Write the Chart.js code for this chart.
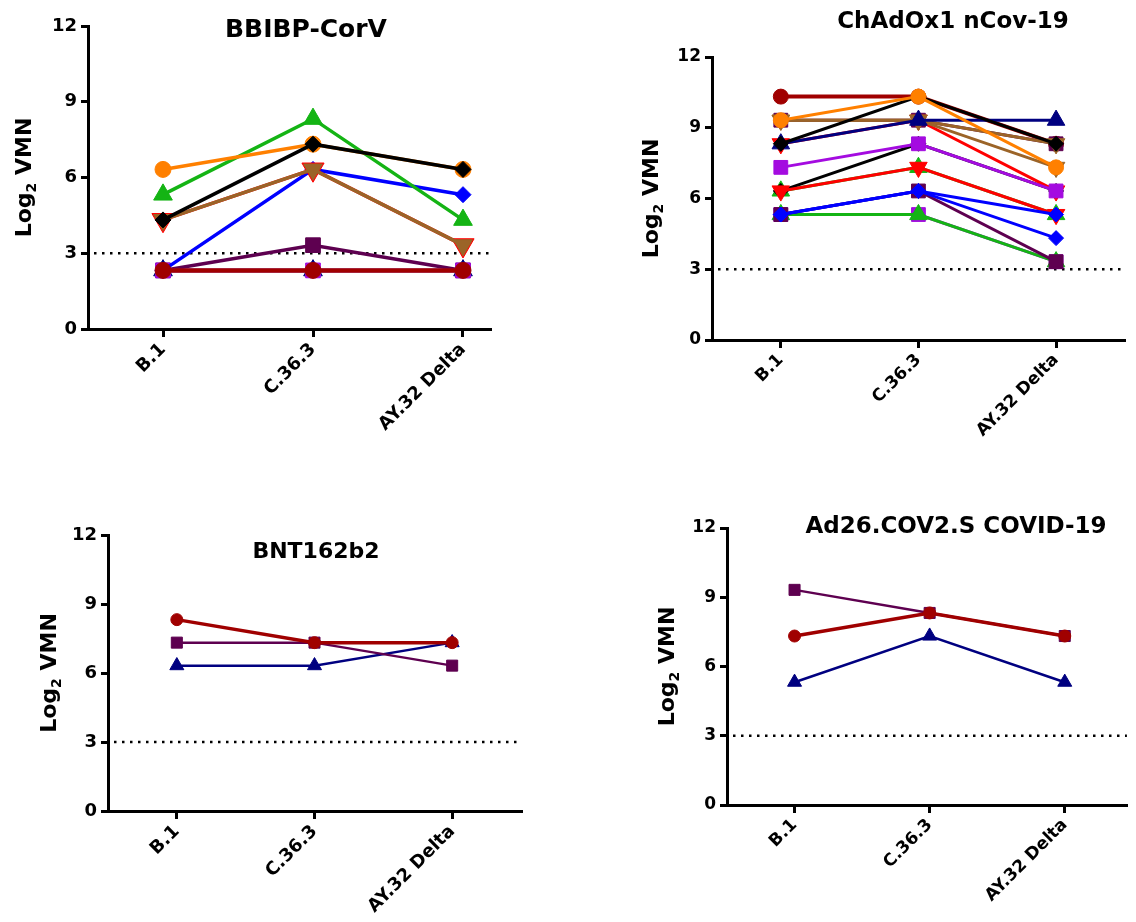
<!DOCTYPE html>
<html>
<head>
<meta charset="utf-8">
<script src="https://cdn.jsdelivr.net/npm/chart.js@4.4.1/dist/chart.umd.min.js"></script>
<style>
  body { margin: 0; background: #fff; }
  #wrap { position: relative; width: 1136px; height: 922px; overflow: hidden; }
  canvas { position: absolute; }
</style>
</head>
<body>
<div id="wrap">
  <canvas id="bbibp" width="568" height="461" style="left:0;top:0"></canvas>
  <canvas id="chadox" width="568" height="461" style="left:568px;top:0"></canvas>
  <canvas id="bnt" width="568" height="461" style="left:0;top:461px"></canvas>
  <canvas id="ad26" width="568" height="461" style="left:568px;top:461px"></canvas>
</div>
<script>
const variants = ['B.1', 'C.36.3', 'AY.32 Delta'];
const cutoff = 3;
const yMin = 0;
const yMax = 12;
const yStep = 3;

// values per subject: B.1, C.36.3, AY.32 Delta (first one drawn on top)
const bbibpValues = [
    [4.32, 7.32, 6.32],
    [6.32, 7.32, 6.32],
    [5.32, 8.32, 4.32],
    [4.32, 6.32, 3.32],
    [4.32, 6.32, 3.32],
    [2.32, 2.32, 2.32],
    [2.32, 6.32, 5.32],
    [2.32, 2.32, 2.32],
    [2.32, 3.32, 2.32],
    [2.32, 2.32, 2.32]
];

const chadoxValues = [
    [9.32, 10.32, 7.32],
    [8.32, 10.32, 8.32],
    [8.32, 9.32, 9.32],
    [9.32, 9.32, 8.32],
    [9.32, 9.32, 7.32],
    [7.32, 8.32, 6.32],
    [8.32, 9.32, 6.32],
    [9.32, 9.32, 8.32],
    [10.32, 10.32, 8.32],
    [5.32, 6.32, 5.32],
    [5.32, 6.32, 4.32],
    [6.32, 7.32, 5.32],
    [6.32, 8.32, 6.32],
    [6.32, 7.32, 5.32],
    [5.32, 6.32, 3.32],
    [5.32, 5.32, 3.32],
    [5.32, 5.32, 3.32]
];

const bntValues = [
    [8.32, 7.32, 7.32],
    [7.32, 7.32, 6.32],
    [6.32, 6.32, 7.32]
];

const ad26Values = [
    [7.32, 8.32, 7.32],
    [9.32, 8.32, 7.32],
    [5.32, 7.32, 5.32]
];

const colors = {
    black: '#000000',
    orange: '#ff8000',
    green: '#14b414',
    brown: '#9b6428',
    red: '#ff0000',
    blue: '#0000ff',
    darkPurple: '#5e0050',
    darkRed: '#a00000',
    violet: '#a40be0',
    navy: '#000080'
};

// marker shapes, k scales the radius so shapes look the same size
const circle = { style: 'circle', rot: 0, k: 1 };
const square = { style: 'rect', rot: 0, k: 1.3 };
const diamond = { style: 'rectRot', rot: 0, k: 1 };
const up = { style: 'triangle', rot: 0, k: 1.35 };
const down = { style: 'triangle', rot: 180, k: 1.35 };
const downWide = { style: 'triangle', rot: 180, k: 1.6 };

const bbibpStyles = [
    [colors.black, diamond],
    [colors.orange, circle],
    [colors.green, up],
    [colors.brown, down],
    [colors.red, downWide],
    [colors.darkRed, circle],
    [colors.blue, diamond],
    [colors.violet, square],
    [colors.darkPurple, square],
    [colors.navy, up]
];

const chadoxStyles = [
    [colors.orange, circle],
    [colors.black, diamond],
    [colors.navy, up],
    [colors.brown, down],
    [colors.brown, down],
    [colors.violet, square],
    [colors.red, down],
    [colors.darkPurple, square],
    [colors.darkRed, circle],
    [colors.blue, diamond],
    [colors.blue, diamond],
    [colors.red, down],
    [colors.black, diamond],
    [colors.green, up],
    [colors.darkPurple, square],
    [colors.green, up],
    [colors.violet, square]
];

const smallStyles = [
    [colors.darkRed, circle],
    [colors.darkPurple, square],
    [colors.navy, up]
];

// title, y label and the dotted cut-off line
const panelText = {
    id: 'panelText',
    beforeDatasetsDraw(chart, args, opts) {
        const ctx = chart.ctx;
        const area = chart.chartArea;
        const y = chart.scales.y.getPixelForValue(cutoff);
        ctx.save();
        ctx.strokeStyle = '#000';
        ctx.lineWidth = 2.5;
        ctx.setLineDash([2.5, 5.5]);
        ctx.beginPath();
        ctx.moveTo(area.left + 6, y);
        ctx.lineTo(area.right, y);
        ctx.stroke();
        ctx.restore();
    },
    afterDraw(chart, args, opts) {
        const ctx = chart.ctx;
        ctx.save();
        ctx.fillStyle = '#000';
        ctx.font = 'bold ' + opts.titleSize + 'px "DejaVu Sans"';
        ctx.textAlign = 'center';
        ctx.textBaseline = 'alphabetic';
        ctx.fillText(opts.title, opts.titleX, opts.titleY);

        // Log2 VMN, rotated, with a subscript 2
        const s = opts.labelSize;
        const big = 'bold ' + s + 'px "DejaVu Sans"';
        const small = 'bold ' + Math.round(s * 0.65) + 'px "DejaVu Sans"';
        ctx.font = big;
        const w1 = ctx.measureText('Log').width;
        const w3 = ctx.measureText(' VMN').width;
        ctx.font = small;
        const w2 = ctx.measureText('2').width;
        const total = w1 + w2 + w3;
        const midY = (chart.chartArea.top + chart.chartArea.bottom) / 2;
        ctx.translate(opts.labelX + s * 0.36, midY);
        ctx.rotate(-Math.PI / 2);
        ctx.textAlign = 'left';
        ctx.font = big;
        ctx.fillText('Log', -total / 2, 0);
        ctx.font = small;
        ctx.fillText('2', -total / 2 + w1, s * 0.25);
        ctx.font = big;
        ctx.fillText(' VMN', -total / 2 + w1 + w2, 0);
        ctx.restore();
    }
};

function makePanel(id, values, styles, p) {
    const canvas = document.getElementById(id);
    const tickFont = { family: 'DejaVu Sans', weight: 'bold', size: p.tickSize };
    return new Chart(canvas, {
        type: 'line',
        data: {
            datasets: values.map((vals, i) => ({
                data: vals.map((v, j) => ({ x: j, y: v })),
                borderColor: styles[i][0],
                backgroundColor: styles[i][0],
                pointBackgroundColor: styles[i][0],
                pointBorderColor: styles[i][0],
                pointStyle: styles[i][1].style,
                pointRotation: styles[i][1].rot,
                pointRadius: p.radius * styles[i][1].k,
                pointBorderWidth: 1,
                borderWidth: styles[i][0] === colors.darkRed ? p.lineWidth + 1 : p.lineWidth,
                tension: 0,
                clip: false
            }))
        },
        options: {
            responsive: false,
            animation: false,
            events: [],
            layout: {
                padding: { left: 0, top: p.top, right: p.right, bottom: 0 }
            },
            scales: {
                x: {
                    type: 'linear',
                    min: -0.5,
                    max: p.xMax,
                    afterBuildTicks: (axis) => {
                        axis.ticks = variants.map((_, i) => ({ value: i }));
                    },
                    afterFit: (axis) => { axis.height = p.xHeight; },
                    ticks: {
                        autoSkip: false,
                        minRotation: 45,
                        maxRotation: 45,
                        padding: 2,
                        color: '#000',
                        font: tickFont,
                        callback: (value) => variants[value]
                    },
                    grid: { drawOnChartArea: false, tickLength: 8, lineWidth: 3, color: '#000' },
                    border: { display: true, color: '#000', width: 3 }
                },
                y: {
                    min: yMin,
                    max: yMax,
                    afterFit: (axis) => { axis.width = p.left; },
                    ticks: {
                        stepSize: yStep,
                        padding: 4,
                        color: '#000',
                        font: tickFont
                    },
                    grid: { drawOnChartArea: false, tickLength: 7, lineWidth: 3, color: '#000' },
                    border: { display: true, color: '#000', width: 3 }
                }
            },
            plugins: {
                legend: { display: false },
                tooltip: { enabled: false },
                panelText: {
                    title: p.title,
                    titleSize: p.titleSize,
                    titleX: p.titleX,
                    titleY: p.titleY,
                    labelSize: 22,
                    labelX: p.labelX
                }
            }
        },
        plugins: [panelText]
    });
}

makePanel('bbibp', bbibpValues, bbibpStyles, {
    title: 'BBIBP-CorV', titleSize: 25, titleX: 306, titleY: 37,
    labelX: 23, left: 88, top: 26, right: 78, xHeight: 132, xMax: 2.18,
    tickSize: 18, radius: 8, lineWidth: 3.5
});

makePanel('chadox', chadoxValues, chadoxStyles, {
    title: 'ChAdOx1 nCov-19', titleSize: 23, titleX: 385, titleY: 28,
    labelX: 82, left: 144, top: 57, right: 0, xHeight: 121, xMax: 2.5,
    tickSize: 17, radius: 7.5, lineWidth: 3
});

makePanel('bnt', bntValues, smallStyles, {
    title: 'BNT162b2', titleSize: 22, titleX: 316, titleY: 97,
    labelX: 48, left: 108, top: 74, right: 47, xHeight: 111, xMax: 2.5,
    tickSize: 18, radius: 6, lineWidth: 2.5
});

makePanel('ad26', ad26Values, smallStyles, {
    title: 'Ad26.COV2.S COVID-19', titleSize: 23, titleX: 388, titleY: 72,
    labelX: 98, left: 159, top: 67, right: 0, xHeight: 117, xMax: 2.46,
    tickSize: 17, radius: 6, lineWidth: 2.5
});
</script>
</body>
</html>
